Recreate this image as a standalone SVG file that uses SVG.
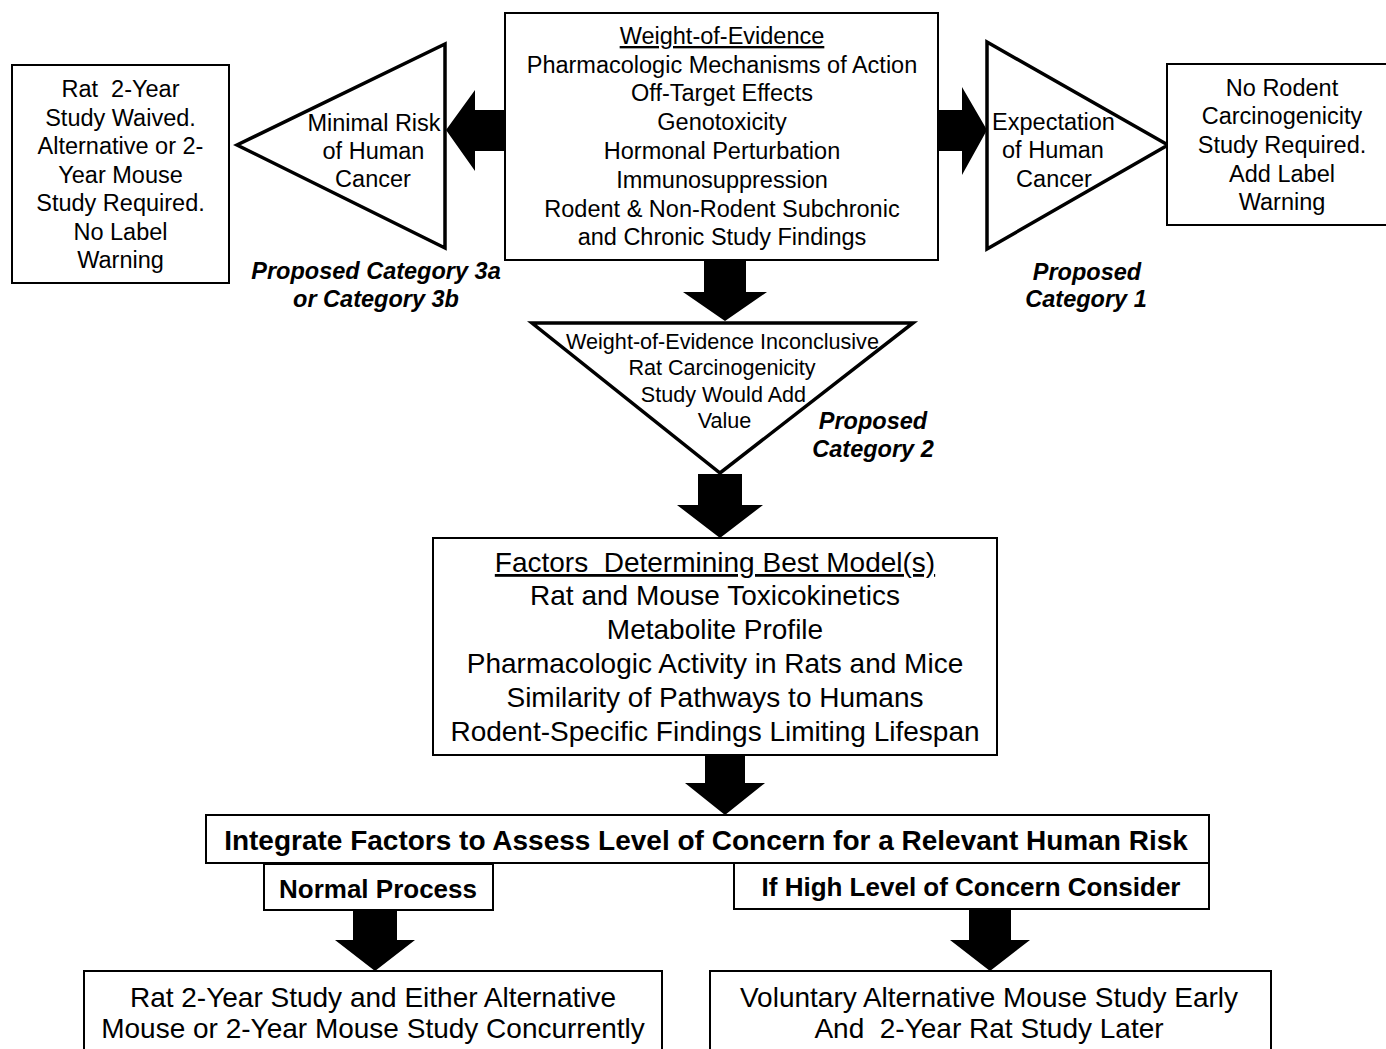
<svg xmlns="http://www.w3.org/2000/svg" width="1386" height="1049" viewBox="0 0 1386 1049">
<style>
  .box { fill: #fff; stroke: #000; stroke-width: 2; }
  .tri { fill: #fff; stroke: #000; stroke-width: 3.5; stroke-linejoin: miter; }
  .arr { fill: #000; stroke: none; }
  text { font-family: "Liberation Sans", Arial, sans-serif; fill: #000; text-anchor: middle; }
  .t24 { font-size: 23.5px; }
  .t21 { font-size: 21.6px; }
  .t28 { font-size: 28px; }
  .b28 { font-size: 28px; font-weight: bold; }
  .b26 { font-size: 26px; font-weight: bold; }
  .bi { font-size: 23.5px; font-weight: bold; font-style: italic; }
</style>
<rect width="1386" height="1049" fill="#fff"/>

<g id="connectors">
  <polygon class="arr" points="507,110 475,110 475,90 446,130 475,171 475,151 507,151"/>
  <polygon class="arr" points="937,110 962,110 962,87 987,130 962,175 962,151 937,151"/>
  <polygon class="arr" points="704,260 746,260 746,292 767,292 725,321 683,292 704,292"/>
  <polygon class="arr" points="698,474 742,474 742,505 763,505 720,538 677,505 698,505"/>
  <polygon class="arr" points="705,756 745,756 745,783 765,783 725,815 685,783 705,783"/>
  <polygon class="arr" points="353,910 397,910 397,940 415,940 375,971 335,940 353,940"/>
  <polygon class="arr" points="969,909 1011,909 1011,940 1030,940 990,971 950,940 969,940"/>
</g>

<g id="node-waived">
  <rect class="box" x="12" y="65" width="217" height="218"/>
  <text class="t24" x="120.5" y="97" xml:space="preserve">Rat  2-Year</text>
  <text class="t24" x="120.5" y="126">Study Waived.</text>
  <text class="t24" x="120.5" y="154">Alternative or 2-</text>
  <text class="t24" x="120.5" y="183">Year Mouse</text>
  <text class="t24" x="120.5" y="211">Study Required.</text>
  <text class="t24" x="120.5" y="240">No Label</text>
  <text class="t24" x="120.5" y="268">Warning</text>
</g>

<g id="node-minimal">
  <polygon class="tri" points="445,44 445,248 237,145"/>
  <text class="t24" x="374" y="131">Minimal Risk</text>
  <text class="t24" x="373.5" y="159">of Human</text>
  <text class="t24" x="373" y="187">Cancer</text>
</g>

<g id="label-cat3">
  <text class="bi" x="376" y="279">Proposed Category 3a</text>
  <text class="bi" x="376" y="307">or Category 3b</text>
</g>

<g id="node-woe">
  <rect class="box" x="505" y="13" width="433" height="247"/>
  <text class="t24" x="722" y="44" text-decoration="underline">Weight-of-Evidence</text>
  <text class="t24" x="722" y="73">Pharmacologic Mechanisms of Action</text>
  <text class="t24" x="722" y="101">Off-Target Effects</text>
  <text class="t24" x="722" y="130">Genotoxicity</text>
  <text class="t24" x="722" y="159">Hormonal Perturbation</text>
  <text class="t24" x="722" y="188">Immunosuppression</text>
  <text class="t24" x="722" y="217">Rodent &amp; Non-Rodent Subchronic</text>
  <text class="t24" x="722" y="245">and Chronic Study Findings</text>
</g>

<g id="node-expectation">
  <polygon class="tri" points="987,42 987,249 1168,145"/>
  <text class="t24" x="1053.5" y="130">Expectation</text>
  <text class="t24" x="1053" y="158">of Human</text>
  <text class="t24" x="1054" y="187">Cancer</text>
</g>

<g id="label-cat1">
  <text class="bi" x="1087" y="280">Proposed</text>
  <text class="bi" x="1086" y="307">Category 1</text>
</g>

<g id="node-norodent">
  <rect class="box" x="1167" y="64" width="225" height="161"/>
  <text class="t24" x="1282" y="96">No Rodent</text>
  <text class="t24" x="1282" y="124">Carcinogenicity</text>
  <text class="t24" x="1282" y="153">Study Required.</text>
  <text class="t24" x="1282" y="182">Add Label</text>
  <text class="t24" x="1282" y="210">Warning</text>
</g>

<g id="node-inconclusive">
  <polygon class="tri" points="532,323 913,323 720,473"/>
  <text class="t21" x="722.5" y="349">Weight-of-Evidence Inconclusive</text>
  <text class="t21" x="722" y="375">Rat Carcinogenicity</text>
  <text class="t21" x="723.5" y="402">Study Would Add</text>
  <text class="t21" x="724.5" y="428">Value</text>
</g>

<g id="label-cat2">
  <text class="bi" x="873" y="429">Proposed</text>
  <text class="bi" x="873" y="457">Category 2</text>
</g>

<g id="node-factors">
  <rect class="box" x="433" y="538" width="564" height="217"/>
  <text class="t28" x="715" y="572" text-decoration="underline" xml:space="preserve">Factors  Determining Best Model(s)</text>
  <text class="t28" x="715" y="605">Rat and Mouse Toxicokinetics</text>
  <text class="t28" x="715" y="639">Metabolite Profile</text>
  <text class="t28" x="715" y="673">Pharmacologic Activity in Rats and Mice</text>
  <text class="t28" x="715" y="707">Similarity of Pathways to Humans</text>
  <text class="t28" x="715" y="741">Rodent-Specific Findings Limiting Lifespan</text>
</g>

<g id="node-integrate">
  <rect class="box" x="206" y="815" width="1003" height="48"/>
  <text class="b28" x="706" y="850">Integrate Factors to Assess Level of Concern for a Relevant Human Risk</text>
</g>

<g id="node-normal">
  <rect class="box" x="264" y="864" width="229" height="46"/>
  <text class="b26" x="378" y="898">Normal Process</text>
</g>

<g id="node-high">
  <rect class="box" x="734" y="863" width="475" height="46"/>
  <text class="b26" x="971" y="896">If High Level of Concern Consider</text>
</g>

<g id="node-concurrent">
  <rect class="box" x="84" y="971" width="578" height="95"/>
  <text class="t28" x="373" y="1007">Rat 2-Year Study and Either Alternative</text>
  <text class="t28" x="373" y="1038">Mouse or 2-Year Mouse Study Concurrently</text>
</g>

<g id="node-voluntary">
  <rect class="box" x="710" y="971" width="561" height="95"/>
  <text class="t28" x="989" y="1007">Voluntary Alternative Mouse Study Early</text>
  <text class="t28" x="989" y="1038" xml:space="preserve">And  2-Year Rat Study Later</text>
</g>
</svg>
